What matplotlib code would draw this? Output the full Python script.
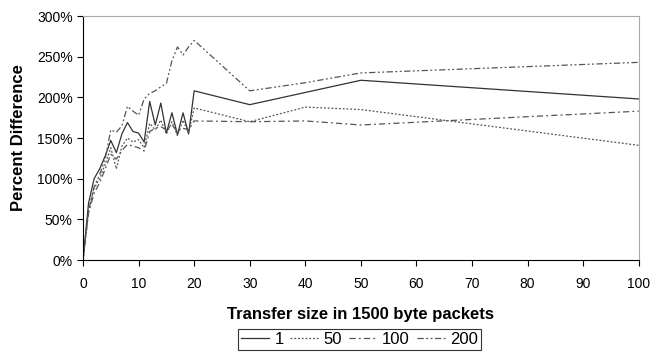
import matplotlib.pyplot as plt
from matplotlib.ticker import PercentFormatter

plt.rcParams['font.family'] = ['Liberation Sans', 'DejaVu Sans']

# transfer sizes (packets)
sizes = [0, 1, 2, 3, 4, 5, 6, 7, 8, 9, 10, 11, 12, 13, 14, 15, 16, 17, 18, 19, 20, 30, 40, 50, 100]

# percent difference per series
s1 = [0, 70, 100, 112, 128, 147, 132, 155, 169, 158, 156, 145, 195, 166, 193, 156, 181, 154, 181, 155, 208,
      191, 206, 221, 198]
s50 = [0, 62, 88, 100, 118, 138, 112, 140, 150, 145, 148, 138, 168, 160, 172, 155, 170, 153, 172, 156, 187,
       170, 188, 185, 141]
s100 = [0, 58, 82, 95, 112, 130, 124, 135, 142, 140, 138, 134, 158, 162, 164, 160, 166, 158, 162, 160, 171,
        170, 171, 166, 183]
s200 = [0, 60, 90, 105, 125, 160, 157, 165, 189, 183, 178, 198, 205, 208, 213, 217, 245, 262, 252, 262, 270,
        208, 218, 230, 243]

labels = ['1', '50', '100', '200']

fig = plt.figure(figsize=(6.5, 3.58), dpi=100)
ax = fig.add_axes([0.1277, 0.2737, 0.855, 0.6816])

ax.plot(sizes, s1, color='#333333', lw=0.9, ls='-', label=labels[0])
ax.plot(sizes, s50, color='#555555', lw=0.9, ls=(0, (1.5, 1.5)), label=labels[1])
ax.plot(sizes, s100, color='#555555', lw=0.9, ls=(0, (5, 2.5, 1.5, 2.5)), label=labels[2])
ax.plot(sizes, s200, color='#555555', lw=0.9, ls=(0, (5, 2, 1.5, 2, 1.5, 2)), label=labels[3])

ax.set_xlim(0, 100)
ax.set_ylim(0, 300)
ax.set_xticks(range(0, 101, 10))
ax.set_yticks(range(0, 301, 50))
ax.yaxis.set_major_formatter(PercentFormatter(decimals=0))
ax.tick_params(direction='out', length=4, width=0.8, labelsize=10, color='black')
ax.tick_params(axis='x', pad=8)

for side in ['top', 'right']:
    ax.spines[side].set_color('#aaaaaa')
for side in ['left', 'bottom']:
    ax.spines[side].set_color('black')
    ax.spines[side].set_linewidth(0.8)

ax.set_xlabel('Transfer size in 1500 byte packets', fontsize=12, fontweight='bold', labelpad=12)
ax.set_ylabel('Percent Difference', fontsize=12, fontweight='bold', labelpad=8)

leg = fig.legend(loc='center', bbox_to_anchor=(0.553, 0.052), ncol=4, frameon=True, fancybox=False,
                 fontsize=12, handlelength=1.7, handletextpad=0.3, columnspacing=0.4,
                 borderpad=0.2, borderaxespad=0)
leg.get_frame().set_edgecolor('black')
leg.get_frame().set_linewidth(0.8)

fig.savefig('out.png', dpi=100)
